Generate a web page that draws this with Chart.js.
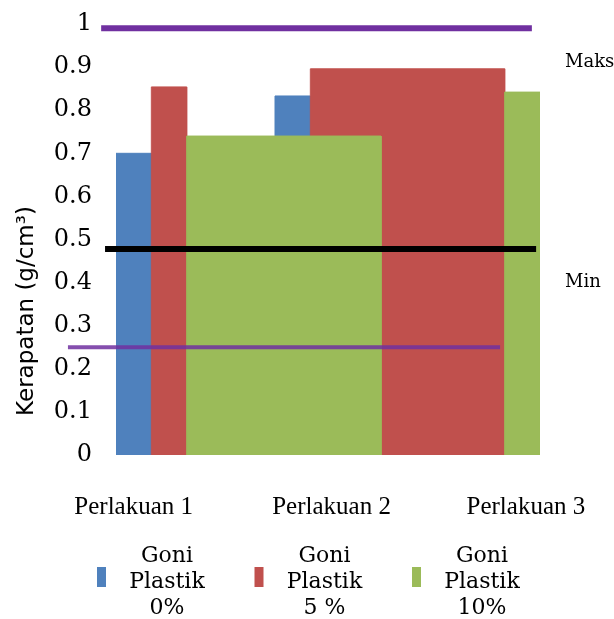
<!DOCTYPE html>
<html>
<head>
<meta charset="utf-8">
<script src="https://cdn.jsdelivr.net/npm/chart.js@4/dist/chart.umd.min.js"></script>
<style>
  html, body { margin: 0; padding: 0; background: #fff; }
  #wrap { width: 614px; height: 619px; position: relative; }
</style>
</head>
<body>
<div id="wrap"><canvas id="chart"></canvas></div>
<script>
/* === Data === */
const categories = ['Perlakuan 1', 'Perlakuan 2', 'Perlakuan 3'];
const categoryPos = [0.5, 6.1, 11.6];
const seriesLabels = [['Goni', 'Plastik', '0%'], ['Goni', 'Plastik', '5 %'], ['Goni', 'Plastik', '10%']];
const seriesColors = ['#4F81BD', '#C0504D', '#9BBB59'];

// bar heights and the stretch of x axis each bar covers
const goni0Values = [0.70, 0.833];
const goni0Spans = [[0, 1], [4.5, 5.5]];
const goni5Values = [0.854, 0.896];
const goni5Spans = [[1, 2], [5.5, 11]];
const goni10Values = [0.74, 0.842];
const goni10Spans = [[2, 7.5], [11, 12]];

// Maks / Min reference lines
const refValues = [0.99, 0.478, 0.25];
const refSpans = [[-0.42, 11.77], [-0.31, 11.89], [-1.36, 10.87]];
const refColors = ['#7030A0', '#000000', 'rgba(112,48,160,0.85)'];
const refWidths = [6, 6, 4];

const notes = [{ text: 'Maks', value: 0.91 }, { text: 'Min', value: 0.40 }];
const yTitle = 'Kerapatan (g/cm\u00B3)';

// turn a list of bars into an outline the line element can fill down to zero
function barOutline(values, spans) {
  const pts = [];
  values.forEach((v, i) => {
    const [a, b] = spans[i];
    pts.push({ x: a, y: 0 }, { x: a, y: v }, { x: b, y: v }, { x: b, y: 0 });
  });
  return pts;
}

const barSets = [
  { values: goni0Values, spans: goni0Spans, order: 2 },
  { values: goni5Values, spans: goni5Spans, order: 1 },
  { values: goni10Values, spans: goni10Spans, order: 0 },
].map((s, i) => ({
  label: seriesLabels[i].join(' '),
  data: barOutline(s.values, s.spans),
  backgroundColor: seriesColors[i],
  borderColor: seriesColors[i],
  borderWidth: 1,
  // no outline along the zero line between bars
  segment: { borderColor: c => (c.p0.parsed.y === 0 && c.p1.parsed.y === 0 ? 'rgba(0,0,0,0)' : undefined) },
  pointRadius: 0,
  tension: 0,
  fill: 'origin',
  clip: 0,
  order: s.order,
}));

const refSets = refValues.map((v, i) => ({
  label: 'ref' + i,
  data: [{ x: refSpans[i][0], y: v }, { x: refSpans[i][1], y: v }],
  borderColor: refColors[i],
  borderWidth: refWidths[i],
  pointRadius: 0,
  fill: false,
  clip: false,
  order: -1,
}));

/* === Extra drawing: axis title, notes, legend === */
const extras = {
  id: 'extras',
  afterDraw(chart) {
    const ctx = chart.ctx;
    const y = chart.scales.y;
    const area = chart.chartArea;
    ctx.save();

    // y title
    ctx.fillStyle = '#000';
    ctx.font = '23px "DejaVu Sans"';
    ctx.textAlign = 'center';
    ctx.textBaseline = 'middle';
    ctx.save();
    ctx.translate(27, 311);
    ctx.rotate(-Math.PI / 2);
    ctx.fillText(yTitle, 0, 0);
    ctx.restore();

    // Maks / Min
    ctx.font = '18px "DejaVu Serif"';
    ctx.textAlign = 'left';
    notes.forEach(n => ctx.fillText(n.text, area.right + 25, y.getPixelForValue(n.value)));

    // legend
    ctx.font = '22px "DejaVu Serif"';
    ctx.textAlign = 'center';
    seriesLabels.forEach((lines, i) => {
      const bx = 97 + i * 157.5;
      ctx.fillStyle = seriesColors[i];
      ctx.fillRect(bx, 567, 9, 20);
      ctx.fillStyle = '#000';
      lines.forEach((t, k) => ctx.fillText(t, bx + 70, 556 + k * 26));
    });
    ctx.restore();
  }
};

new Chart(document.getElementById('chart'), {
  type: 'line',
  data: { datasets: [...barSets, ...refSets] },
  options: {
    responsive: true,
    maintainAspectRatio: false,
    animation: false,
    layout: { padding: { top: 24, right: 74, left: 0, bottom: 0 } },
    plugins: { legend: { display: false }, tooltip: { enabled: false } },
    scales: {
      x: {
        type: 'linear',
        min: 0,
        max: 12,
        grid: { display: false },
        border: { display: false },
        afterBuildTicks: s => { s.ticks = categoryPos.map(v => ({ value: v })); },
        afterFit: s => { s.height = 164; s.paddingLeft = 0; s.paddingRight = 0; },
        ticks: {
          padding: 29,
          color: '#000',
          maxRotation: 0,
          autoSkip: false,
          font: { family: '"Liberation Serif"', size: 25 },
          callback: (v, i) => categories[i],
        },
      },
      y: {
        min: 0,
        max: 1,
        grid: { display: false, drawTicks: false },
        border: { display: false },
        afterFit: s => { s.width = 116; s.paddingTop = 0; s.paddingBottom = 0; },
        ticks: {
          stepSize: 0.1,
          padding: 24,
          color: '#000',
          font: { family: '"DejaVu Serif"', size: 24 },
          callback: v => String(Number(v.toFixed(1))),
        },
      },
    },
  },
  plugins: [extras],
});
</script>
</body>
</html>
